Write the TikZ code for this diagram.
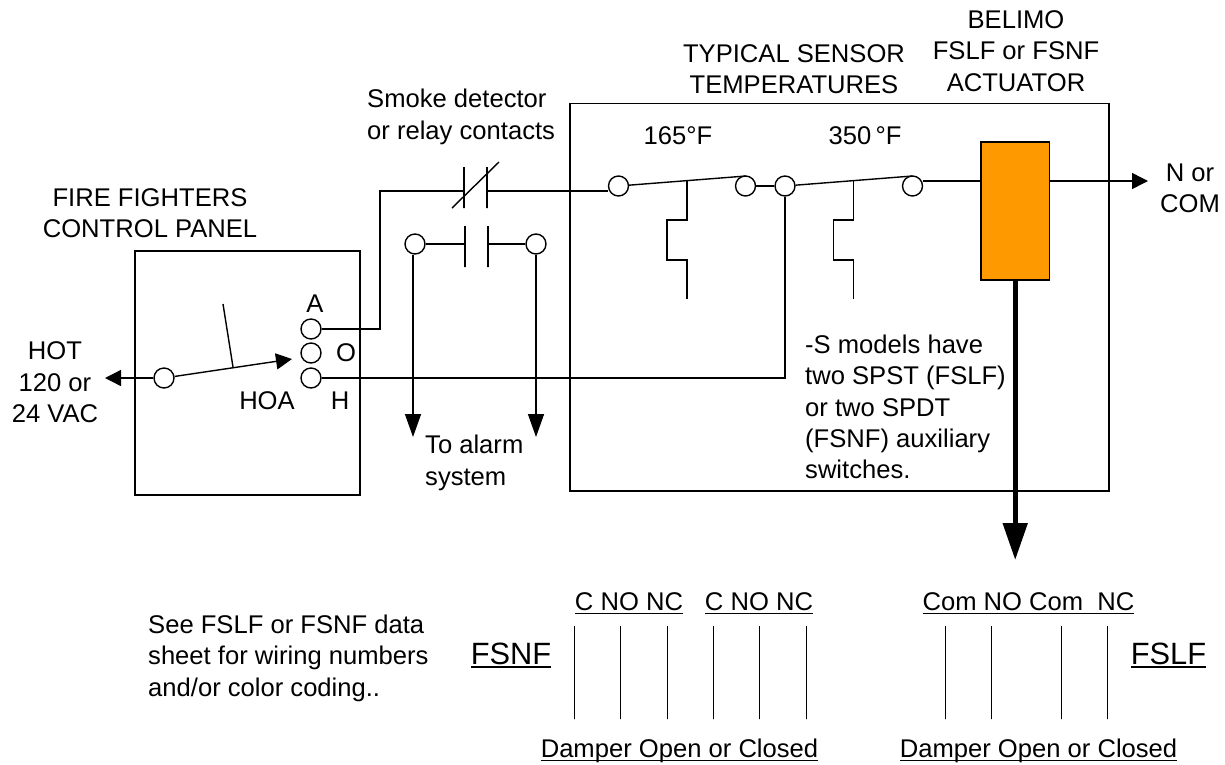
\documentclass[tikz,border=0pt]{standalone}
\usepackage{fontspec}
\setmainfont{Liberation Sans}
\usetikzlibrary{arrows.meta,positioning,calc}

\definecolor{actorange}{HTML}{FF9900}

\newsavebox{\ulbox}
\newcommand{\ulin}[1]{\sbox{\ulbox}{#1}\rlap{\rule[-3.5pt]{\wd\ulbox}{1.5pt}}\usebox{\ulbox}}

\begin{document}
\begin{tikzpicture}
[x=1pt,y=-1pt,
term/.style={shape=circle,draw=black,fill=white,line width=1.4pt,inner sep=0pt,minimum size=20pt},
plate/.style={shape=rectangle,draw=black,line width=1.4pt,inner sep=0pt,minimum width=0pt,minimum height=41pt},
panel/.style={shape=rectangle,draw=black,line width=1.5pt,inner sep=0pt},
actuator/.style={panel,fill=actorange,minimum width=68.5pt,minimum height=138pt},
wire/.style={line width=1.4pt},
dedge/.style={wire,-{Triangle[length=16pt,width=16pt]}},
dropedge/.style={wire,-{Triangle[length=23pt,width=16pt]}},
bigedge/.style={line width=5pt,-{Triangle[length=37pt,width=24pt]}},
lbl/.style={inner sep=0pt,align=center,font=\fontsize{25.6}{31.4}\selectfont},
lblleft/.style={lbl,align=left,anchor=west},
big/.style={lbl,font=\fontsize{30.8}{33}\selectfont},
pin/.style={shape=rectangle,draw=black,line width=1.3pt,inner sep=0pt,minimum width=0pt,minimum height=93pt}]

\useasboundingbox (0,0) rectangle (1225,764);

% boxes
\node (ctrl) [panel,minimum width=225pt,minimum height=244pt] at (247.5,373) {};
\node (dampbox) [panel,minimum width=539pt,minimum height=387.5pt] at (839.5,297) {};
\node (act) [actuator] at (1015.2,211) {};

% control panel
\node (hot) [term] at (164,378) {};
\node (termA) [term] at (311,329) {};
\node (termO) [term] at (311,353) {};
\node (termH) [term] at (311,378) {};
\coordinate (hotend) at (105,378);
\coordinate (hoatip) at (292,359);
\coordinate (hoafoot) at (233,367);
\coordinate (hoatop) at (223,304);
\draw[dedge] (hot) -- (hotend);
\draw[dedge] (hot) -- (hoatip);
\draw[wire] (hoafoot) -- (hoatop);

% contacts
\node (nc1) [plate] at (464,187.5) {};
\node (nc2) [plate] at (487,187.5) {};
\node (no1) [plate] at (465,246.5) {};
\node (no2) [plate] at (488,246.5) {};
\node (alarmL) [term] at (415,244) {};
\node (alarmR) [term] at (536,244) {};
\coordinate (bendA) at (380,191);
\coordinate (slashA) at (452,208);
\coordinate (slashB) at (499,162);
\coordinate (dropL) at (413,437);
\coordinate (dropR) at (536,437);
\draw[wire] (termA) -| (bendA) -- (bendA -| nc1);
\draw[wire] (slashA) -- (slashB);
\draw[wire] (alarmL) -- (alarmL -| no1);
\draw[wire] (alarmR -| no2) -- (alarmR);
\draw[dropedge] (alarmL.south -| dropL) -- (dropL);
\draw[dropedge] (alarmR) -- (dropR);

% sensors
\node (s1a) [term] at (618.5,186) {};
\node (s1b) [term] at (745.5,186) {};
\node (s2a) [term] at (785,186) {};
\node (s2b) [term] at (912.5,186) {};
\coordinate (lev1) at (746,176);
\coordinate (lev2) at (912.5,176);
\coordinate (st1) at (687,181);
\coordinate (st2) at (853.5,181);
\coordinate (neutral) at (1148,181);
\coordinate (bigtip) at (1015.2,560);
\draw[wire] (bendA -| nc2) -- (bendA -| s1a.west);
\draw[wire] (s1a) -- (lev1);
\draw[wire] (s1b) -- (s2a);
\draw[wire] (s2a) -- (lev2);
\draw[wire] (st1) -- (687,220) -- (667,220) -- (667,260) -- (687,260) -- (687,299);
\draw[wire] (st2) -- (853.5,220) -- (833.5,220) -- (833.5,260) -- (853.5,260) -- (853.5,299);
\draw[wire] (termH) -| (s2a);
\draw[wire] (neutral -| s2b.east) -- (neutral -| act.west);
\draw[dedge] (neutral -| act.east) -- (neutral);
\draw[bigedge] (act.south) -- (bigtip);

% wiring pins
\foreach \n/\x in {1/574.5,2/620.5,3/667.5,4/713.5,5/759.5,6/806.5}
  \node (fn\n) [pin] at (\x,672.5) {};
\foreach \n/\x in {1/945.5,2/991.5,3/1061.5,4/1107.5}
  \node (fl\n) [pin] at (\x,672.5) {};

% labels
\node (tbel) [lbl] at (1016,51) {BELIMO\\FSLF or FSNF\\ACTUATOR};
\node (tsens) [lbl] at (794,69) {TYPICAL SENSOR\\TEMPERATURES};
\node (tsmoke) [lblleft] at (367,117) {Smoke detector\\or relay contacts};
\node (tpanel) [lbl] at (150,213) {FIRE FIGHTERS\\CONTROL PANEL};
\node (t165) [lbl] at (678,135.5) {165°F};
\node (t350) [lbl] at (865,135.5) {350\,°F};
\node (tneutral) [lbl] at (1190,188.5) {N or\\COM};
\node (tA) [lbl] at (315,304) {A};
\node (tO) [lbl] at (346,353) {O};
\node (tH) [lbl] at (340,401) {H};
\node (tHOA) [lbl] at (267,401) {HOA};
\node (thot) [lbl] at (55,382.5) {HOT\\120 or\\24 VAC};
\node (talarm) [lblleft] at (425,463) {To alarm\\system};
\node (tmodels) [lblleft] at (805,407) {-S models have\\two SPST (FSLF)\\or two SPDT\\(FSNF) auxiliary\\switches.};
\node (tsee) [lblleft] at (148,658) {See FSLF or FSNF data\\sheet for wiring numbers\\and/or color coding..};
\node (tfsnf) [big] at (511,655) {\ulin{FSNF}};
\node (tfslf) [big] at (1168.5,655) {\ulin{FSLF}};
\node (tc1) [lbl] at (629,603.5) {\ulin{C NO NC}};
\node (tc2) [lbl] at (759,603.5) {\ulin{C NO NC}};
\node (tcom) [lbl] at (1028.5,603.5) {\ulin{Com NO Com\ \ NC}};
\node (tdamp1) [lbl] at (679.5,751) {\ulin{Damper Open or Closed}};
\node (tdamp2) [lbl] at (1038.5,751) {\ulin{Damper Open or Closed}};

\end{tikzpicture}
\end{document}
